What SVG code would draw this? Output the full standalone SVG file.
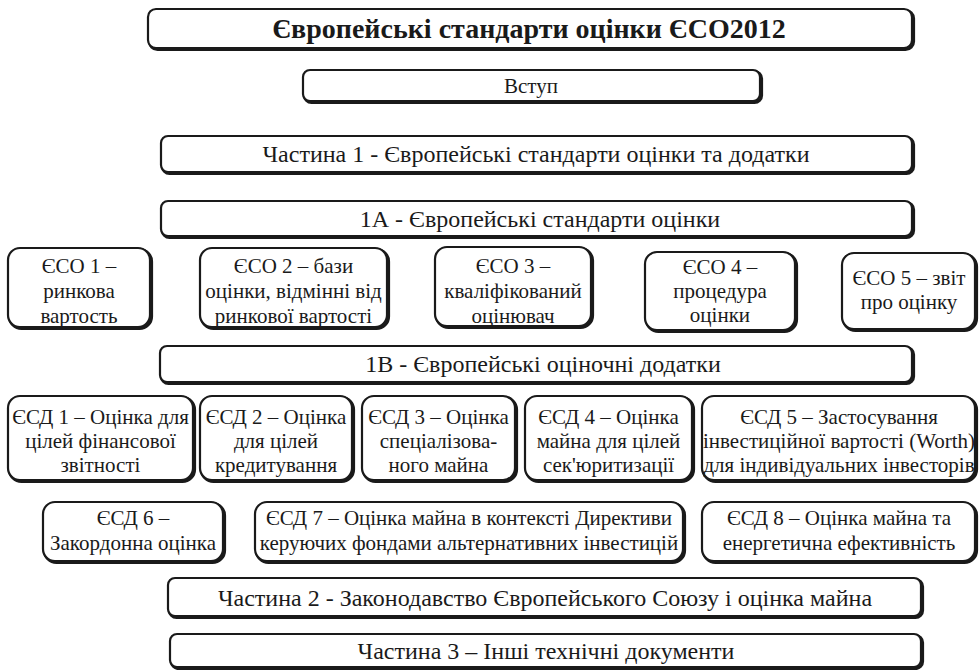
<svg xmlns="http://www.w3.org/2000/svg" width="979" height="670" viewBox="0 0 979 670">
<style>
.sh{fill:none;stroke:#1a1a1a;stroke-width:3.2}
.bx{fill:#fff;stroke:#1a1a1a;stroke-width:2.2}
text{fill:#1a1a1a;text-anchor:middle}
.t{font-size:21px}
.b{font-size:24px}
.h{font-size:28px;font-weight:bold}
</style>
<defs>
<clipPath id="c1"><rect x="10" y="250" width="138" height="76"/></clipPath>
<clipPath id="c2"><rect x="202" y="250" width="183" height="76"/></clipPath>
<clipPath id="c3"><rect x="437" y="249" width="152" height="76"/></clipPath>
<clipPath id="c4"><rect x="647" y="254" width="146" height="75"/></clipPath>
</defs>
<rect width="979" height="670" fill="#fff"/>
<g id="connectors"></g>

<g id="title">
<rect class="sh" x="149.5" y="10.5" width="764" height="39" rx="8"/>
<rect class="bx" x="148" y="9" width="764" height="39" rx="8"/>
<text class="h" font-family="Liberation Serif, serif" x="529" y="38">Європейські стандарти оцінки ЄСО2012</text>
</g>
<g id="vstup">
<rect class="sh" x="304.5" y="71.5" width="457" height="31" rx="7"/>
<rect class="bx" x="303" y="70" width="457" height="31" rx="7"/>
<text class="t" font-family="Liberation Serif, serif" x="531" y="93">Вступ</text>
</g>
<g id="part1">
<rect class="sh" x="162.5" y="137.5" width="751" height="36" rx="7"/>
<rect class="bx" x="161" y="136" width="751" height="36" rx="7"/>
<text class="b" font-family="Liberation Serif, serif" x="536" y="162">Частина 1 - Європейські стандарти оцінки та додатки</text>
</g>
<g id="part1a">
<rect class="sh" x="162.5" y="202.5" width="751" height="35" rx="7"/>
<rect class="bx" x="161" y="201" width="751" height="35" rx="7"/>
<text class="b" font-family="Liberation Serif, serif" x="540" y="227">1А - Європейські стандарти оцінки</text>
</g>

<g id="eso1">
<rect class="sh" x="9.5" y="249.5" width="142" height="79" rx="12"/>
<rect class="bx" x="8" y="248" width="142" height="79" rx="12"/>
<g clip-path="url(#c1)">
<text class="t" font-family="Liberation Serif, serif" x="79" y="273">ЄСО 1 –</text>
<text class="t" font-family="Liberation Serif, serif" x="79" y="298">ринкова</text>
<text class="t" font-family="Liberation Serif, serif" x="79" y="323">вартость</text>
</g>
</g>
<g id="eso2">
<rect class="sh" x="201.5" y="249.5" width="187" height="79" rx="12"/>
<rect class="bx" x="200" y="248" width="187" height="79" rx="12"/>
<g clip-path="url(#c2)">
<text class="t" font-family="Liberation Serif, serif" x="293.5" y="273">ЄСО 2 – бази</text>
<text class="t" font-family="Liberation Serif, serif" x="293.5" y="298">оцінки, відмінні від</text>
<text class="t" font-family="Liberation Serif, serif" x="293.5" y="323">ринкової вартості</text>
</g>
</g>
<g id="eso3">
<rect class="sh" x="436.5" y="248.5" width="156" height="79" rx="12"/>
<rect class="bx" x="435" y="247" width="156" height="79" rx="12"/>
<g clip-path="url(#c3)">
<text class="t" font-family="Liberation Serif, serif" x="513" y="273">ЄСО 3 –</text>
<text class="t" font-family="Liberation Serif, serif" x="513" y="298">кваліфікований</text>
<text class="t" font-family="Liberation Serif, serif" x="513" y="323">оцінювач</text>
</g>
</g>
<g id="eso4">
<rect class="sh" x="646.5" y="253.5" width="150" height="78" rx="12"/>
<rect class="bx" x="645" y="252" width="150" height="78" rx="12"/>
<g clip-path="url(#c4)">
<text class="t" font-family="Liberation Serif, serif" x="720" y="274">ЄСО 4 –</text>
<text class="t" font-family="Liberation Serif, serif" x="720" y="298">процедура</text>
<text class="t" font-family="Liberation Serif, serif" x="720" y="322">оцінки</text>
</g>
</g>
<g id="eso5">
<rect class="sh" x="843.5" y="254.5" width="133" height="76" rx="12"/>
<rect class="bx" x="842" y="253" width="133" height="76" rx="12"/>
<text class="t" font-family="Liberation Serif, serif" x="909" y="285">ЄСО 5 – звіт</text>
<text class="t" font-family="Liberation Serif, serif" x="909" y="309">про оцінку</text>
</g>

<g id="part1b">
<rect class="sh" x="161.5" y="347.5" width="752" height="36" rx="7"/>
<rect class="bx" x="160" y="346" width="752" height="36" rx="7"/>
<text class="b" font-family="Liberation Serif, serif" x="543" y="372">1В - Європейські оціночні додатки</text>
</g>

<g id="esd1">
<rect class="sh" x="9.5" y="397.5" width="185" height="84" rx="12"/>
<rect class="bx" x="8" y="396" width="185" height="84" rx="12"/>
<text class="t" font-family="Liberation Serif, serif" x="100.5" y="424">ЄСД 1 – Оцінка для</text>
<text class="t" font-family="Liberation Serif, serif" x="100.5" y="448">цілей фінансової</text>
<text class="t" font-family="Liberation Serif, serif" x="100.5" y="472">звітності</text>
</g>
<g id="esd2">
<rect class="sh" x="201.5" y="397.5" width="152" height="84" rx="12"/>
<rect class="bx" x="200" y="396" width="152" height="84" rx="12"/>
<text class="t" font-family="Liberation Serif, serif" x="276" y="424">ЄСД 2 – Оцінка</text>
<text class="t" font-family="Liberation Serif, serif" x="276" y="448">для цілей</text>
<text class="t" font-family="Liberation Serif, serif" x="276" y="472">кредитування</text>
</g>
<g id="esd3">
<rect class="sh" x="363.5" y="397.5" width="153" height="84" rx="12"/>
<rect class="bx" x="362" y="396" width="153" height="84" rx="12"/>
<text class="t" font-family="Liberation Serif, serif" x="438.5" y="424">ЄСД 3 – Оцінка</text>
<text class="t" font-family="Liberation Serif, serif" x="438.5" y="448">спеціалізова-</text>
<text class="t" font-family="Liberation Serif, serif" x="438.5" y="472">ного майна</text>
</g>
<g id="esd4">
<rect class="sh" x="526.5" y="397.5" width="167" height="84" rx="12"/>
<rect class="bx" x="525" y="396" width="167" height="84" rx="12"/>
<text class="t" font-family="Liberation Serif, serif" x="608.5" y="424">ЄСД 4 – Оцінка</text>
<text class="t" font-family="Liberation Serif, serif" x="608.5" y="448">майна для цілей</text>
<text class="t" font-family="Liberation Serif, serif" x="608.5" y="472">сек'юритизації</text>
</g>
<g id="esd5">
<rect class="sh" x="703.5" y="397.5" width="273" height="84" rx="12"/>
<rect class="bx" x="702" y="396" width="273" height="84" rx="12"/>
<text class="t" font-family="Liberation Serif, serif" x="839" y="424">ЄСД 5 – Застосування</text>
<text class="t" font-family="Liberation Serif, serif" x="839" y="448">інвестиційної вартості (Worth)</text>
<text class="t" font-family="Liberation Serif, serif" x="839" y="472">для індивідуальних інвесторів</text>
</g>

<g id="esd6">
<rect class="sh" x="44.5" y="503.5" width="180" height="59" rx="12"/>
<rect class="bx" x="43" y="502" width="180" height="59" rx="12"/>
<text class="t" font-family="Liberation Serif, serif" x="133" y="525">ЄСД 6 –</text>
<text class="t" font-family="Liberation Serif, serif" x="133" y="550">Закордонна оцінка</text>
</g>
<g id="esd7">
<rect class="sh" x="256.5" y="503.5" width="428" height="59" rx="12"/>
<rect class="bx" x="255" y="502" width="428" height="59" rx="12"/>
<text class="t" font-family="Liberation Serif, serif" x="469" y="525">ЄСД 7 – Оцінка майна в контексті Директиви</text>
<text class="t" font-family="Liberation Serif, serif" x="469" y="550">керуючих фондами альтернативних інвестицій</text>
</g>
<g id="esd8">
<rect class="sh" x="703.5" y="503.5" width="273" height="59" rx="12"/>
<rect class="bx" x="702" y="502" width="273" height="59" rx="12"/>
<text class="t" font-family="Liberation Serif, serif" x="839" y="525">ЄСД 8 – Оцінка майна та</text>
<text class="t" font-family="Liberation Serif, serif" x="839" y="550">енергетична ефективність</text>
</g>

<g id="part2">
<rect class="sh" x="169.5" y="579.5" width="753" height="38" rx="7"/>
<rect class="bx" x="168" y="578" width="753" height="38" rx="7"/>
<text class="b" font-family="Liberation Serif, serif" x="545" y="606">Частина 2 - Законодавство Європейського Союзу і оцінка майна</text>
</g>
<g id="part3">
<rect class="sh" x="171.5" y="635.5" width="751" height="33" rx="7"/>
<rect class="bx" x="170" y="634" width="751" height="33" rx="7"/>
<text class="b" font-family="Liberation Serif, serif" x="546" y="659">Частина 3 – Інші технічні документи</text>
</g>
</svg>
